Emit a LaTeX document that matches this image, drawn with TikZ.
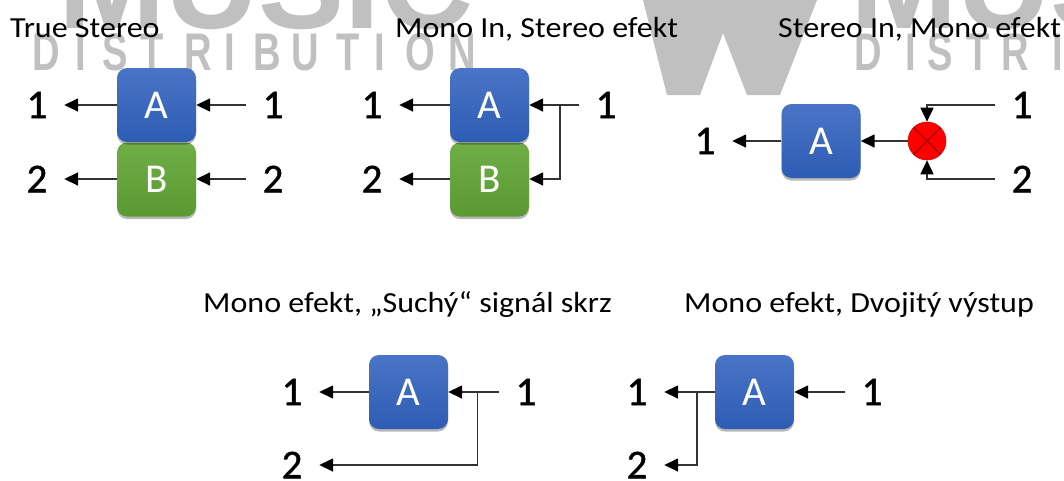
\documentclass[tikz,border=0pt]{standalone}
\usepackage{fontspec}
\setmainfont{Carlito}
\newfontfamily\wmfont{Liberation Sans}
\newfontfamily\numfont[FakeBold=1]{Carlito}
\usetikzlibrary{arrows.meta,shadows,calc}
\definecolor{wm}{HTML}{C0C0C0}
\definecolor{blueT}{HTML}{4A74C6}
\definecolor{blueB}{HTML}{2E5DB5}
\definecolor{greenT}{HTML}{70AD47}
\definecolor{greenB}{HTML}{5A9A32}
\tikzset{
  x=1pt,y=-1pt,
  blk/.style={rounded corners=10pt,minimum width=79pt,minimum height=74pt,inner sep=0pt,text=white,
    font=\fontsize{41}{44}\selectfont,drop shadow={shadow xshift=0pt,shadow yshift=-2.5pt,fill=black,opacity=.28}},
  blueblk/.style={blk,top color=blueT,bottom color=blueB},
  greenblk/.style={blk,top color=greenT,bottom color=greenB},
  lab/.style={minimum width=54pt,inner sep=0pt,text=black,font=\numfont\fontsize{41}{44}\selectfont},
  ttl/.style={anchor=base west,inner sep=0pt,text=black,xscale=1.1,transform shape,font=\fontsize{29.1}{32}\selectfont},
  arr/.style={draw=black!80,line width=1.6pt,-{Triangle[length=14pt,width=13pt,black]}},
  mixer/.style={circle,minimum size=38pt,inner sep=0pt,fill=red,draw=red!85!black,line width=.6pt,
    path picture={\draw[red!65!black,line width=1.4pt] (path picture bounding box.north west)--(path picture bounding box.south east)
      (path picture bounding box.north east)--(path picture bounding box.south west);}},
  wmbig/.style={anchor=base west,inner sep=0pt,text=wm,font=\wmfont\bfseries\fontsize{129}{130}\selectfont},
  wmsmall/.style={anchor=base,inner sep=0pt,text=wm,xscale=.72,transform shape,font=\wmfont\bfseries\fontsize{53}{55}\selectfont},
}
\begin{document}
\begin{tikzpicture}
\useasboundingbox (0,0) rectangle (1064,480);
\begin{scope}
\clip (0,0) rectangle (1064,480);
\node[wmbig] (m1) at (58,28) {MUSIC};
\node[wmbig] (m2) at (850,28) {MUSIC};
\foreach \ch/\cx in {D/46,I/81,S/115,T/152,R/198,I/230,B/267,U/305,T/348,I/380,O/420,N/462}
  \node[wmsmall] at (\cx,70) {\ch};
\foreach \ch/\cx in {D/868,I/911,S/940,T/978,R/1015,I/1058}
  \node[wmsmall] at (\cx,70) {\ch};
\fill[wm] (643,0)--(667,95)--(700,95)--(723,33)--(747,95)--(780,95)--(817,0)--cycle;
\end{scope}

% titles
\node[ttl] (t1) at (10,37) {True Stereo};
\node[ttl] (t2) at (395,37) {Mono In, Stereo efekt};
\node[ttl] (t3) at (778,37) {Stereo In, Mono efekt};
\node[ttl] (t4) at (203,312) {Mono efekt, „Suchý“ signál skrz};
\node[ttl] (t5) at (684,312) {Mono efekt, Dvojitý výstup};

% True Stereo
\node[greenblk] (b1) at (156.5,179.5) {B};
\node[blueblk] (a1) at (156.5,105) {A};
\node[lab] (l11) at (37,105) {1};
\node[lab] (l12) at (37,179) {2};
\node[lab] (r11) at (273,105) {1};
\node[lab] (r12) at (273,179) {2};
\draw[arr] (a1.west)--(l11.east);
\draw[arr] (b1.west|-l12)--(l12.east);
\draw[arr] (r11.west)--(a1.east);
\draw[arr] (r12.west)--(b1.east|-r12);

% Mono in, stereo efekt
\node[greenblk] (b2) at (489.5,179.5) {B};
\node[blueblk] (a2) at (489.5,105) {A};
\node[lab] (l21) at (372,105) {1};
\node[lab] (l22) at (372,179) {2};
\node[lab] (r21) at (606,105) {1};
\draw[arr] (a2.west)--(l21.east);
\draw[arr] (b2.west|-l22)--(l22.east);
\draw[arr] (r21.west)--(a2.east);
\coordinate (j2) at (560,105);
\draw[arr] (j2)|-(b2.east|-l22);

% Stereo in, mono efekt
\node[blueblk] (a3) at (821,141) {A};
\node[lab] (l31) at (705,141) {1};
\node[mixer] (x3) at (927,141) {};
\node[lab] (r31) at (1022,105) {1};
\node[lab] (r32) at (1022,179) {2};
\draw[arr] (a3.west)--(l31.east);
\draw[arr] (x3.west)--(a3.east);
\draw[arr] (r31.west)-|(x3.north);
\draw[arr] (r32.west)-|(x3.south);

% Suchy signal
\node[blueblk] (a4) at (408.5,392) {A};
\node[lab] (l41) at (292,392) {1};
\node[lab] (l42) at (292,465) {2};
\node[lab] (r41) at (526,392) {1};
\draw[arr] (a4.west)--(l41.east);
\draw[arr] (r41.west)--(a4.east);
\coordinate (j4) at (477.5,392);
\draw[arr] (j4)|-(l42.east);

% Dvojity vystup
\node[blueblk] (a5) at (754.5,392) {A};
\node[lab] (l51) at (637,392) {1};
\node[lab] (l52) at (637,465) {2};
\node[lab] (r51) at (872,392) {1};
\draw[arr] (a5.west)--(l51.east);
\draw[arr] (r51.west)--(a5.east);
\coordinate (j5) at (697,392);
\draw[arr] (j5)|-(l52.east);
\end{tikzpicture}
\end{document}
